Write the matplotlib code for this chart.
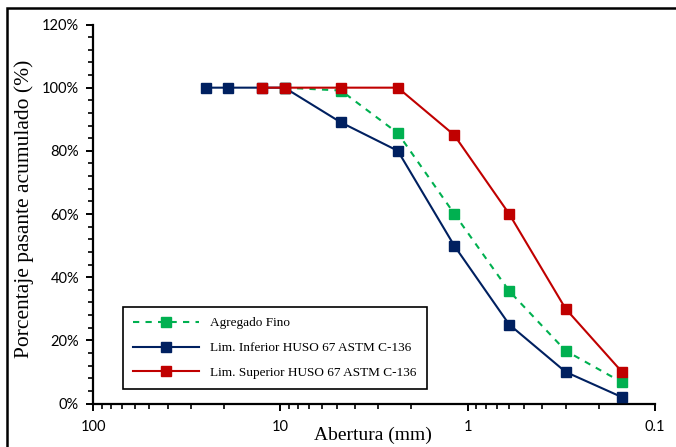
import matplotlib
matplotlib.use("Agg")
import matplotlib.pyplot as plt
from matplotlib.ticker import FixedLocator, FuncFormatter, MultipleLocator, LogLocator
from matplotlib.patches import Rectangle

# tamices (mm) y porcentaje pasante acumulado
abertura_fino = [9.5, 4.75, 2.36, 1.18, 0.6, 0.3, 0.15]
pasa_fino = [100, 99.1, 85.6, 60.1, 35.6, 16.7, 6.7]

abertura_inf = [25, 19, 12.5, 9.5, 4.75, 2.36, 1.18, 0.6, 0.3, 0.15]
pasa_inf = [100, 100, 100, 100, 89, 80, 50, 25, 10, 2]

abertura_sup = [12.5, 9.5, 4.75, 2.36, 1.18, 0.6, 0.3, 0.15]
pasa_sup = [100, 100, 100, 100, 85, 60, 30, 10]

x_ticks = [100, 10, 1, 0.1]
x_ticklabels = ["100", "10", "1", "0.1"]

verde = "#00B050"
azul = "#002060"
rojo = "#C00000"

fig = plt.figure(figsize=(6.76, 4.47), dpi=100)
ax = fig.add_axes([93 / 676, 1 - 403.5 / 447, 562 / 676, 379 / 447])

# marco exterior del gráfico
fig.patches.append(Rectangle((7 / 676, -0.05), 1.2, 1 - 8 / 447 + 0.05,
                             transform=fig.transFigure, fill=False,
                             edgecolor="black", linewidth=1.8))

ax.plot(abertura_fino, pasa_fino, color=verde, linestyle=(0, (3, 3)), linewidth=1.5,
        marker="s", markersize=7, label="Agregado Fino", zorder=3)
ax.plot(abertura_inf, pasa_inf, color=azul, linewidth=1.5,
        marker="s", markersize=7, label="Lim. Inferior HUSO 67 ASTM C-136", zorder=4)
ax.plot(abertura_sup, pasa_sup, color=rojo, linewidth=1.5,
        marker="s", markersize=7, label="Lim. Superior HUSO 67 ASTM C-136", zorder=5)

ax.set_xscale("log")
ax.set_xlim(100, 0.1)
ax.set_ylim(0, 120)

ax.xaxis.set_major_locator(FixedLocator(x_ticks))
ax.xaxis.set_major_formatter(FuncFormatter(lambda v, p: x_ticklabels[x_ticks.index(v)] if v in x_ticks else ""))
ax.xaxis.set_minor_locator(LogLocator(base=10, subs=range(2, 10)))
ax.xaxis.set_minor_formatter(FuncFormatter(lambda v, p: ""))

ax.yaxis.set_major_locator(MultipleLocator(20))
ax.yaxis.set_minor_locator(MultipleLocator(4))
ax.yaxis.set_major_formatter(FuncFormatter(lambda v, p: f"{v:.0f}%"))

for s in ["top", "right"]:
    ax.spines[s].set_visible(False)
for s in ["left", "bottom"]:
    ax.spines[s].set_linewidth(1.6)

ax.tick_params(axis="both", which="major", direction="out", length=5, width=1.4,
               labelsize=10.5, pad=5)
ax.tick_params(axis="both", which="minor", direction="out", length=3.5, width=1.2)
for lbl in ax.get_xticklabels() + ax.get_yticklabels():
    lbl.set_fontfamily("Lato")
ax.tick_params(axis="x", which="major", pad=7)

ax.set_xlabel("Abertura (mm)", fontfamily="Liberation Serif", fontsize=14)
ax.xaxis.set_label_coords(0.498, -0.062)
ax.set_ylabel("Porcentaje pasante acumulado (%)", fontfamily="Liberation Serif", fontsize=15.5)
ax.yaxis.set_label_coords(-0.105, 0.514)

leg = ax.legend(loc="lower left", bbox_to_anchor=(0.053, 0.037), borderaxespad=0,
                prop={"family": "Liberation Serif", "size": 9.5},
                handlelength=5, labelspacing=0.95, fancybox=False,
                edgecolor="black", framealpha=1, borderpad=0.8)
leg.get_frame().set_linewidth(1.2)

fig.savefig("out.png", dpi=100)
